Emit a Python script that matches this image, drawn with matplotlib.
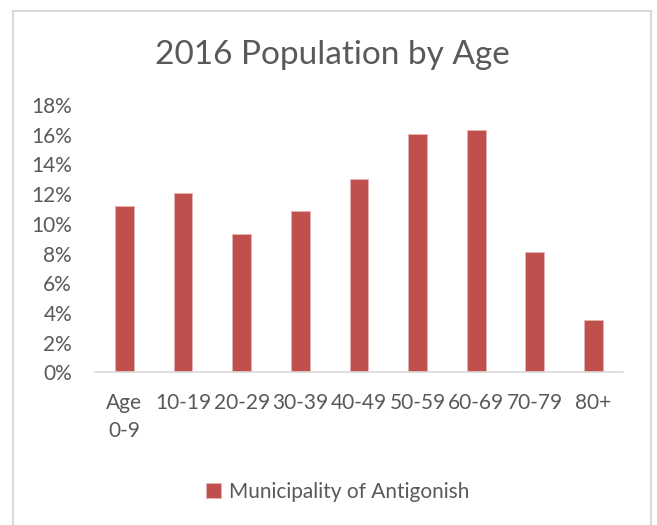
import matplotlib
matplotlib.use("Agg")
import matplotlib.pyplot as plt
from matplotlib.patches import Rectangle
from matplotlib.ticker import FuncFormatter
import numpy as np

plt.rcParams["font.family"] = ["Lato", "DejaVu Sans"]

categories = ["Age\n0-9", "10-19", "20-29", "30-39", "40-49", "50-59", "60-69", "70-79", "80+"]
share = [11.2, 12.1, 9.35, 10.85, 13.0, 16.05, 16.35, 8.1, 3.55]
series_name = "Municipality of Antigonish"

bar_color = "#C0504D"
text_color = "#595959"

fig = plt.figure(figsize=(6.57, 5.25), dpi=100)
ax = fig.add_axes([0.1446, 0.2905, 0.8034, 0.5095])

x = np.arange(len(categories))
ax.bar(x, share, width=0.32, color=bar_color, edgecolor="#E8B4B3", linewidth=0.6,
       label=series_name)

ax.set_xlim(-0.5, len(categories) - 0.5)
ax.set_ylim(0, 18)
ax.set_yticks(np.arange(0, 19, 2))
ax.yaxis.set_major_formatter(FuncFormatter(lambda v, _: f"{v:.0f}%"))
ax.set_xticks(x)
ax.set_xticklabels(categories, linespacing=1.45)

for side in ["top", "right", "left"]:
    ax.spines[side].set_visible(False)
ax.spines["bottom"].set_color("#D9D9D9")
ax.spines["bottom"].set_linewidth(1.2)
ax.tick_params(axis="both", length=0, labelsize=15, labelcolor=text_color)
ax.tick_params(axis="x", pad=15)
ax.tick_params(axis="y", pad=16.5)

fig.text(0.506, 0.895, "2016 Population by Age", ha="center", va="center",
         fontsize=24, color=text_color)

fig.legend(loc="center", bbox_to_anchor=(0.514, 0.063), frameon=False,
           fontsize=15, labelcolor=text_color, handlelength=0.7, handleheight=0.7,
           handletextpad=0.4)

# chart area border
fig.patches.append(Rectangle((13 / 657, -0.01), (651 - 13) / 657, 1 - 11 / 525 + 0.01,
                             transform=fig.transFigure, fill=False,
                             edgecolor="#D9D9D9", linewidth=1.5))

fig.savefig("out.png", dpi=100, facecolor="white")
